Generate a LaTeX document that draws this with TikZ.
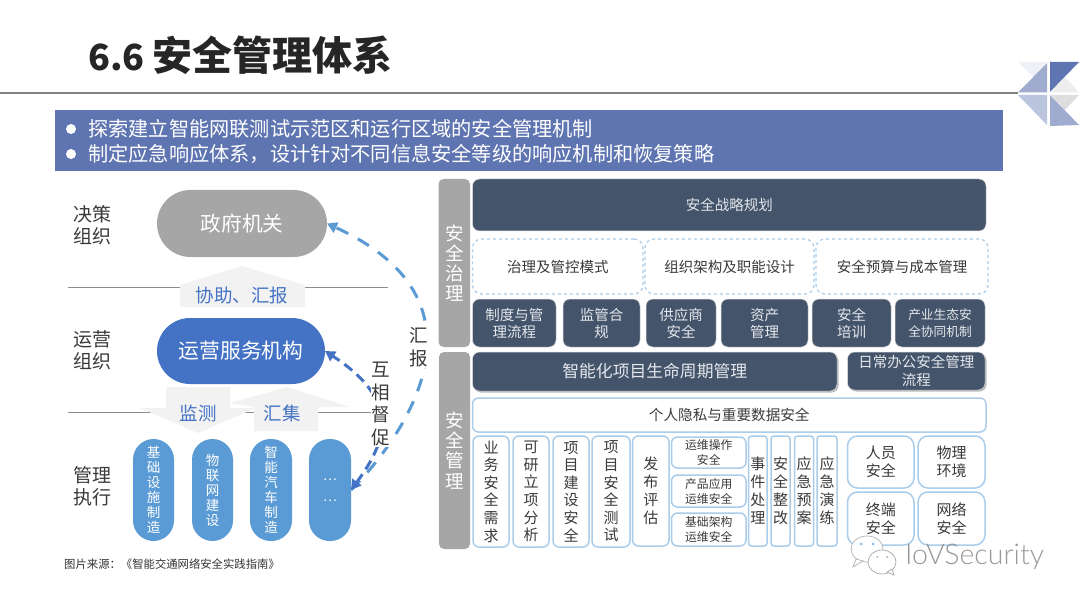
\documentclass[tikz,border=0pt]{standalone}
\usepackage{fontspec}
\usetikzlibrary{arrows.meta,shadows}
\setmainfont{Noto Sans CJK SC}
\newfontfamily\latinlight{Lato Light}
\definecolor{bannerblue}{HTML}{5F75B1}
\definecolor{govgray}{HTML}{A6A6A6}
\definecolor{opblue}{HTML}{4472C4}
\definecolor{pillblue}{HTML}{5B9BD5}
\definecolor{slatebox}{HTML}{44546A}
\definecolor{lightedge}{HTML}{A9CDEB}
\definecolor{paletext}{HTML}{E4E7EC}
\definecolor{palearrow}{HTML}{F2F2F2}
\definecolor{inktext}{HTML}{3A3A3A}
\newcommand\fs[2]{\fontsize{#1}{#2}\selectfont}
\newcommand\bx[7]{\node[#2,minimum width={(#5-#3)*1pt},minimum height={(#6-#4)*1pt}] (#1) at ({(#3+#5)/2},{(#4+#6)/2}) {#7};}
\tikzset{
  base/.style={inner sep=0pt,outer sep=0pt,align=center},
  slate/.style={base,fill=slatebox,text=paletext,rounded corners=7pt,draw=white!85!black,line width=.5pt},
  slatefont/.style={font=\fs{14.5}{17}},
  softshadow/.style={drop shadow={shadow xshift=1.5pt,shadow yshift=-1.5pt,fill=black!45,opacity=.6}},
  sidebar/.style={base,fill=govgray,text=white,rounded corners=5pt,font=\fs{18.5}{20.2}},
  dashbox/.style={base,draw=lightedge,dashed,line width=1.2pt,rounded corners=9pt,text=inktext,font=\fs{14.5}{17}},
  cell/.style={base,draw=lightedge,fill=white,line width=1.5pt,rounded corners=6pt,text=inktext,font=\fs{15}{17.6}},
  mini/.style={cell,font=\fs{11.8}{15}},
  label/.style={inner sep=0pt,align=center,text=inktext,font=\fs{19}{22}},
  pill/.style={base,fill=pillblue,text=white,rounded corners=20.5pt,font=\fs{13.5}{15}},
  bluetext/.style={inner sep=0pt,text=opblue,font=\fs{18.5}{20}},
  sepline/.style={draw=black!45,line width=.6pt},
  bigarrow/.style={fill=palearrow,draw=none},
  outerarc/.style={draw=pillblue,line width=3pt,dash pattern=on 13pt off 11pt,-{Triangle[length=10pt,width=11pt]}},
  innerarc/.style={draw=opblue,line width=3pt,dash pattern=on 10pt off 6pt,{Triangle[length=10pt,width=11pt]}-{Triangle[length=10pt,width=11pt]}},
  vlabel/.style={fill=white,inner sep=1pt,align=center,text=inktext,font=\fs{18.5}{22.7}},
}
\begin{document}
\begin{tikzpicture}[x=1pt,y=-1pt]
\useasboundingbox (0,0) rectangle (1080,607);
\fill[white] (0,0) rectangle (1080,607);
% title
\node[inner sep=0pt,anchor=west,text=black!85,font=\fs{36}{40}\bfseries] (title) at (88,55) {6.6 {\fs{40}{40}安全管理体系}};
\coordinate (ruleL) at (0,93);
\coordinate (ruleR) at (1018,93);
\draw[draw=black!50,line width=2pt] (ruleL) -- (ruleR);
% logo
\fill[bannerblue!10] (1018,62) -- (1047,62) -- (1033,77) -- cycle;
\fill[bannerblue!60] (1018,92.5) -- (1047,92.5) -- (1047,63) -- cycle;
\fill[bannerblue] (1050,62) -- (1079,62) -- (1050,92) -- cycle;
\fill[black!7] (1065,77) -- (1079,92.5) -- (1051,92.5) -- cycle;
\fill[bannerblue!42] (1018,95) -- (1047,95) -- (1047,125) -- cycle;
\fill[black!13] (1051,95) -- (1079,95) -- (1065,110) -- cycle;
\fill[bannerblue!60] (1050,95) -- (1079,125) -- (1050,126) -- cycle;
% banner
\bx{banner}{base,fill=bannerblue}{55}{110}{1003}{171}{}
\fill[white] (71,129) circle (5);
\fill[white] (71,154) circle (5);
\node[inner sep=0pt,anchor=west,text=white,font=\fs{20.2}{24}] (ban1) at (88,129) {探索建立智能网联测试示范区和运行区域的安全管理机制};
\node[inner sep=0pt,anchor=west,text=white,font=\fs{20.2}{24}] (ban2) at (88,154) {制定应急响应体系，设计针对不同信息安全等级的响应机制和恢复策略};
% separators and pale arrows
\coordinate (s1a) at (68,287); \coordinate (s1b) at (388,287);
\coordinate (s2a) at (68,412); \coordinate (s2b) at (372,412);
\draw[sepline] (s1a) -- (s1b);
\draw[sepline] (s2a) -- (s2b);
\fill[bigarrow] (242,266) -- (305,285) -- (305,307) -- (180,307) -- (180,285) -- cycle;
\fill[bigarrow] (166,387) -- (230,387) -- (230,408) -- (256,408) -- (198,433) -- (140,408) -- (166,408) -- cycle;
\fill[bigarrow] (287,387) -- (350,407) -- (318,407) -- (318,431) -- (254,431) -- (254,407) -- (230,403) -- cycle;
% left labels
\node[label] (l1) at (92,225) {决策\\组织};
\node[label] (l2) at (92,350) {运营\\组织};
\node[label] (l3) at (92,486) {管理\\执行};
% main nodes
\bx{gov}{base,fill=govgray,text=white,rounded corners=33.5pt,font=\fs{20.7}{24}}{157}{190}{327}{257}{政府机关}
\bx{op}{base,fill=opblue,text=white,rounded corners=33pt,font=\fs{20.8}{24}}{157}{318}{325}{384}{运营服务机构}
\node[bluetext] (help) at (242,295) {协助、汇报};
\node[bluetext] (mon) at (198,413) {监测};
\node[bluetext] (col) at (282,413) {汇集};
% pills
\bx{p1}{pill}{133}{439}{174}{541}{基\\础\\设\\施\\制\\造}
\bx{p2}{pill}{192}{439}{233}{541}{物\\联\\网\\建\\设}
\bx{p3}{pill}{250}{439}{292}{541}{智\\能\\汽\\车\\制\\造}
\bx{p4}{pill,font=\fs{13}{21}}{309}{439}{351}{541}{…\\…}
% arcs
\draw[outerarc] (p4.east) .. controls (396,445) and (505,305) .. (gov.east);
\draw[innerarc] (p4.east) .. controls (388,440) and (400,400) .. (op.east);
\node[vlabel] (rep) at (419,347) {汇\\报};
\node[vlabel] (urge) at (381,404) {互\\相\\督\\促};
\node[inner sep=0pt,anchor=west,text=black!80,font=\fs{11.35}{13}] (src) at (64,564) {图片来源：《智能交通网络安全实践指南》};
% right: governance
\bx{gbar}{sidebar}{438.5}{179}{470}{347}{安\\全\\治\\理}
\bx{strategy}{slate,font=\fs{14.5}{17}}{472.5}{179}{986}{231}{安全战略规划}
\bx{d1}{dashbox}{472.5}{239}{643}{294}{治理及管控模式}
\bx{d2}{dashbox}{645}{239}{814}{294}{组织架构及职能设计}
\bx{d3}{dashbox}{816}{239}{988}{294}{安全预算与成本管理}
\bx{g1}{slate,slatefont}{472.5}{299}{556}{347}{制度与管\\理流程}
\bx{g2}{slate,slatefont}{563}{299}{640}{347}{监管合\\规}
\bx{g3}{slate,slatefont}{646}{299}{716}{347}{供应商\\安全}
\bx{g4}{slate,slatefont}{721}{299}{808}{347}{资产\\管理}
\bx{g5}{slate,slatefont}{812}{299}{891}{347}{安全\\培训}
\bx{g6}{slate,font=\fs{12.7}{17}}{895}{299}{985}{347}{产业生态安\\全协同机制}
% right: management
\bx{mbar}{sidebar}{439}{352}{470}{549}{安\\全\\管\\理}
\bx{life}{slate,softshadow,font=\fs{16.8}{20}}{472.5}{352}{837}{391}{智能化项目生命周期管理}
\bx{daily}{slate,softshadow,font=\fs{14.5}{18}}{847.5}{352}{985}{390}{日常办公安全管理\\流程}
\bx{priv}{cell,font=\fs{14.6}{17}}{472.5}{398}{986}{432}{个人隐私与重要数据安全}
\bx{c1}{cell}{473}{436}{509}{547}{业\\务\\安\\全\\需\\求}
\bx{c2}{cell}{513}{436}{549}{547}{可\\研\\立\\项\\分\\析}
\bx{c3}{cell}{553}{436}{589}{547}{项\\目\\建\\设\\安\\全}
\bx{c4}{cell}{592}{436}{630}{547}{项\\目\\安\\全\\测\\试}
\bx{c5}{cell,font=\fs{15}{18}}{632.5}{436}{669}{546}{发\\布\\评\\估}
\bx{m1}{mini}{671.5}{437}{746}{468}{运维操作\\安全}
\bx{m2}{mini}{671.5}{475}{746}{507}{产品应用\\运维安全}
\bx{m3}{mini}{671.5}{513}{746}{546}{基础架构\\运维安全}
\bx{n1}{cell,rounded corners=3pt,font=\fs{15}{18}}{748.5}{436}{767}{546}{事\\件\\处\\理}
\bx{n2}{cell,rounded corners=3pt,font=\fs{15}{18}}{771}{436}{790}{546}{安\\全\\整\\改}
\bx{n3}{cell,rounded corners=3pt,font=\fs{15}{18}}{794.5}{436}{813.5}{546}{应\\急\\预\\案}
\bx{n4}{cell,rounded corners=3pt,font=\fs{15}{18}}{817}{436}{837}{546}{应\\急\\演\\练}
\bx{q1}{cell,rounded corners=10pt}{847.5}{436}{914}{488}{人员\\安全}
\bx{q2}{cell,rounded corners=10pt}{918}{436}{985}{488}{物理\\环境}
\bx{q3}{cell,rounded corners=10pt}{847.5}{492}{914}{545}{终端\\安全}
\bx{q4}{cell,rounded corners=10pt}{918}{492}{985}{545}{网络\\安全}
% watermark
\filldraw[fill=white,draw=black!30,line width=.7pt] (867,549) ellipse (16 and 13);
\filldraw[fill=white,draw=black!30,line width=.7pt] (856,559) -- (853,567) -- (863,561) -- cycle;
\fill[pillblue!70] (861,544) circle (1.5);
\fill[pillblue!70] (873,544) circle (1.5);
\filldraw[fill=white,draw=black!35,line width=.7pt] (882,562) ellipse (14 and 12);
\filldraw[fill=white,draw=black!35,line width=.7pt] (887,572) -- (894,575) -- (892,569) -- cycle;
\fill[black!35] (877,557) circle (1);
\fill[black!35] (887,557) circle (1);
\node[inner sep=0pt,anchor=west,text=black!40,font=\latinlight\fs{28.5}{30}] (wm) at (905,557) {IoVSecurity};
\end{tikzpicture}
\end{document}
